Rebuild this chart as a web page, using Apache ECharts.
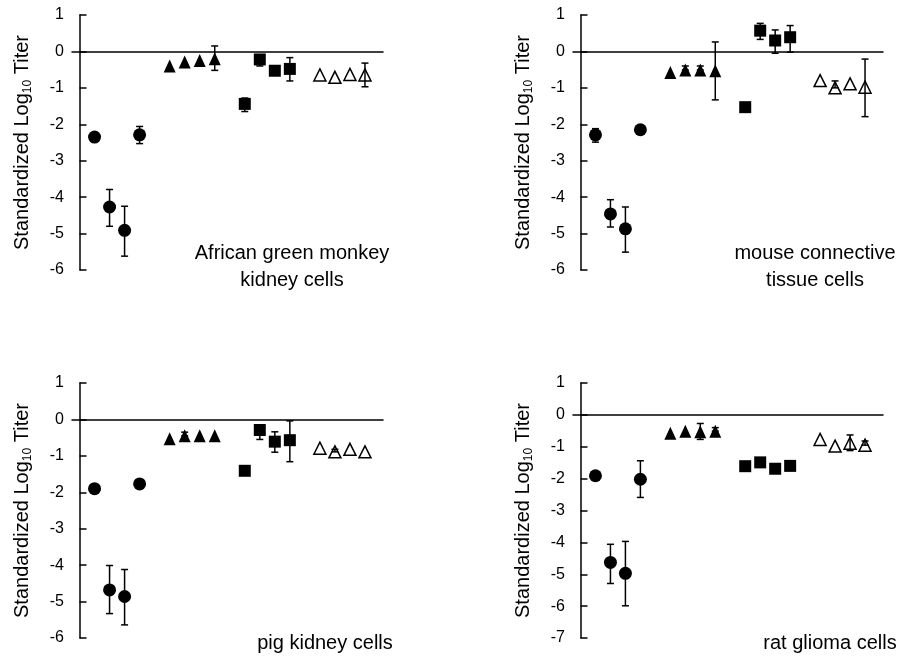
<!DOCTYPE html>
<html>
<head>
<meta charset="utf-8">
<title>Standardized titers</title>
<script src="https://cdn.jsdelivr.net/npm/echarts@6/dist/echarts.min.js"></script>
<style>
  html, body { margin: 0; padding: 0; background: #fff; }
  #main { width: 901px; height: 657px; }
</style>
</head>
<body>
<div id="main"></div>
<script>
// x positions of the four groups of four points
var xCircle = [1, 2, 3, 4];
var xTri = [6, 7, 8, 9];
var xSquare = [11, 12, 13, 14];
var xOpen = [16, 17, 18, 19];

var panelNames = ['African green monkey\nkidney cells', 'mouse connective\ntissue cells', 'pig kidney cells', 'rat glioma cells'];
var yTicksMin = [-6, -6, -6, -7];

// values per panel: circles, filled triangles, squares, open triangles
var monkeyVals = [-2.35, -4.27, -4.91, -2.29,  -0.40, -0.29, -0.25, -0.20,  -1.44, -0.22, -0.53, -0.48,  -0.645, -0.71, -0.63, -0.645];
var monkeyLo   = [null, -4.80, -5.62, -2.53,  null, null, null, -0.52,  -1.65, -0.40, null, -0.81,  null, null, null, -0.97];
var monkeyHi   = [null, -3.79, -4.25, -2.06,  null, null, null, 0.15,  -1.28, -0.10, null, -0.17,  null, null, null, -0.32];

var mouseVals = [-2.29, -4.46, -4.87, -2.15,  -0.58, -0.51, -0.51, -0.53,  -1.53, 0.57, 0.30, 0.39,  -0.80, -1.00, -0.89, -0.98];
var mouseLo   = [-2.49, -4.82, -5.51, null,  null, null, null, -1.33,  null, 0.33, -0.05, -0.02,  null, null, null, -1.79];
var mouseHi   = [-2.12, -4.07, -4.27, null,  null, -0.40, -0.40, 0.26,  null, 0.77, 0.59, 0.71,  null, -0.81, null, -0.21];

var pigVals = [-1.90, -4.68, -4.86, -1.77,  -0.53, -0.45, -0.45, -0.45,  -1.41, -0.29, -0.61, -0.57,  -0.79, -0.89, -0.82, -0.89];
var pigLo   = [null, -5.33, -5.64, null,  null, null, null, null,  null, -0.55, -0.90, -1.16,  null, null, null, null];
var pigHi   = [null, -4.01, -4.12, null,  null, -0.35, null, null,  null, -0.15, -0.34, -0.04,  null, -0.82, null, null];

var ratVals = [-1.91, -4.63, -4.97, -2.02,  -0.58, -0.51, -0.53, -0.51,  -1.61, -1.49, -1.69, -1.60,  -0.77, -0.98, -0.89, -0.95];
var ratLo   = [null, -5.29, -5.99, -2.59,  null, null, -0.77, null,  null, null, null, null,  null, null, -1.12, null];
var ratHi   = [null, -4.06, -3.97, -1.44,  null, null, -0.27, -0.40,  null, null, null, null,  null, null, -0.63, -0.82];

var panelVals = [monkeyVals, mouseVals, pigVals, ratVals];
var panelLo = [monkeyLo, mouseLo, pigLo, ratLo];
var panelHi = [monkeyHi, mouseHi, pigHi, ratHi];

var font = '"Liberation Sans", Arial, Helvetica, sans-serif';
var allX = xCircle.concat(xTri, xSquare, xOpen);

var myChart = echarts.init(document.getElementById('main'));

var grids = [
  { left: 72, top: 15, width: 311, height: 255 },
  { left: 573, top: 15, width: 310, height: 255 },
  { left: 72, top: 383, width: 311, height: 255 },
  { left: 573, top: 383, width: 310, height: 255 }
];
var xAxes = [], yAxes = [], series = [];

function pick(vals, xs, offset) {
  return xs.map(function (x, i) { return [x, vals[offset + i]]; });
}

for (var p = 0; p < 4; p++) {
  xAxes.push({
    type: 'value', gridIndex: p, min: -0.5, max: 20.2,
    axisLine: { show: true, onZero: true, lineStyle: { color: '#000', width: 1.5 } },
    axisTick: { show: false }, axisLabel: { show: false }, splitLine: { show: false }
  });
  yAxes.push({
    type: 'value', gridIndex: p, min: yTicksMin[p], max: 1, interval: 1,
    name: '{a|Standardized Log}{s|10}{a| Titer}',
    nameLocation: 'middle', nameGap: 38,
    nameTextStyle: {
      rich: {
        a: { fontFamily: font, fontSize: 20, color: '#000', lineHeight: 24 },
        s: { fontFamily: font, fontSize: 12, color: '#000', lineHeight: 10, verticalAlign: 'bottom' }
      }
    },
    axisLine: { show: true, lineStyle: { color: '#000', width: 1.5 } },
    axisTick: { show: true, inside: true, length: 7, lineStyle: { color: '#000', width: 1.5 } },
    axisLabel: { color: '#000', fontFamily: font, fontSize: 16, margin: 8 },
    splitLine: { show: false }
  });

  var vals = panelVals[p];
  series.push({
    type: 'scatter', xAxisIndex: p, yAxisIndex: p, symbol: 'circle', symbolSize: 13,
    itemStyle: { color: '#000', opacity: 1 }, data: pick(vals, xCircle, 0), silent: true
  });
  series.push({
    type: 'scatter', xAxisIndex: p, yAxisIndex: p, symbol: 'triangle', symbolSize: [12, 13],
    itemStyle: { color: '#000', opacity: 1 }, data: pick(vals, xTri, 4), silent: true
  });
  series.push({
    type: 'scatter', xAxisIndex: p, yAxisIndex: p, symbol: 'rect', symbolSize: 12,
    itemStyle: { color: '#000', opacity: 1 }, data: pick(vals, xSquare, 8), silent: true
  });
  series.push({
    type: 'scatter', xAxisIndex: p, yAxisIndex: p, symbol: 'triangle', symbolSize: [12, 12],
    itemStyle: { color: '#fff', borderColor: '#000', borderWidth: 1.5, opacity: 1 }, data: pick(vals, xOpen, 12), silent: true
  });

  var errData = [];
  for (var i = 0; i < allX.length; i++) {
    var lo = panelLo[p][i], hi = panelHi[p][i];
    if (lo === null && hi === null) continue;
    errData.push([allX[i], lo === null ? vals[i] : lo, hi === null ? vals[i] : hi]);
  }
  series.push({
    type: 'custom', xAxisIndex: p, yAxisIndex: p, z: 5, silent: true,
    data: errData,
    renderItem: function (params, api) {
      var x = api.value(0);
      var pLo = api.coord([x, api.value(1)]);
      var pHi = api.coord([x, api.value(2)]);
      var w = 3.5;
      var st = { stroke: '#000', lineWidth: 1.5 };
      return {
        type: 'group',
        children: [
          { type: 'line', shape: { x1: pLo[0], y1: pLo[1], x2: pHi[0], y2: pHi[1] }, style: st },
          { type: 'line', shape: { x1: pLo[0] - w, y1: pLo[1], x2: pLo[0] + w, y2: pLo[1] }, style: st },
          { type: 'line', shape: { x1: pHi[0] - w, y1: pHi[1], x2: pHi[0] + w, y2: pHi[1] }, style: st }
        ]
      };
    }
  });
}

var labelPos = [[292, 267], [815, 267], [325, 643], [830, 643]];
var graphic = panelNames.map(function (t, i) {
  return {
    type: 'text', x: labelPos[i][0], y: labelPos[i][1],
    style: { text: t, font: '20px ' + font, fill: '#000', align: 'center', verticalAlign: 'middle', lineHeight: 27 }
  };
});

myChart.setOption({
  animation: false,
  grid: grids,
  xAxis: xAxes,
  yAxis: yAxes,
  series: series,
  graphic: graphic
});
</script>
</body>
</html>
